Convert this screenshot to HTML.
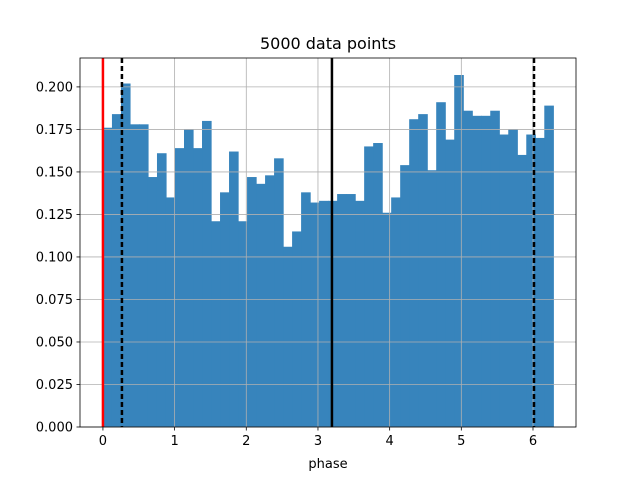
<!DOCTYPE html>
<html><head><meta charset="utf-8"><style>body{margin:0;background:#fff}svg{display:block;font-family:"DejaVu Sans","Liberation Sans",sans-serif}</style></head>
<body>
<svg id="c" width="640" height="480"></svg>
<script>
const binValues=[0.176,0.184,0.202,0.178,0.178,0.147,0.161,0.135,0.164,0.175,0.164,0.180,0.121,0.138,0.162,0.121,0.147,0.143,0.148,0.158,0.106,0.115,0.138,0.132,0.133,0.133,0.137,0.137,0.133,0.165,0.167,0.126,0.135,0.154,0.181,0.184,0.151,0.191,0.169,0.207,0.186,0.183,0.183,0.186,0.172,0.175,0.160,0.172,0.170,0.189];
const xTicks=[0,1,2,3,4,5,6];
const yTicks=[0,0.025,0.05,0.075,0.1,0.125,0.15,0.175,0.2];
const vLines=[{x:0,color:"red",dash:"",name:"start-line"},{x:0.265,color:"black",dash:"5,3",name:"lower-bound-line"},{x:3.195,color:"black",dash:"",name:"center-line"},{x:6.014,color:"black",dash:"5,3",name:"upper-bound-line"}];
const L=80,R=576,T=58,B=427,xmin=-0.32,xmax=6.6,ymax=0.217;
const sx=v=>L+(v-xmin)/(xmax-xmin)*(R-L);
const sy=v=>B-v/ymax*(B-T);
const svg=document.getElementById('c');const NS='http://www.w3.org/2000/svg';
function mk(t,a,p){const e=document.createElementNS(NS,t);for(const k in a)e.setAttribute(k,a[k]);(p||svg).appendChild(e);return e;}
const w=2*Math.PI/binValues.length;
binValues.forEach((v,i)=>{const x0=sx(i*w),x1=sx((i+1)*w);
const r=mk('rect',{x:x0,y:sy(v),width:x1-x0+0.6,height:B-sy(v),fill:'#3784bc'});

});
xTicks.forEach(t=>{const x=sx(t);
const g=mk('line',{x1:x,x2:x,y1:T,y2:B,stroke:'#b0b0b0','stroke-width':0.8});


mk('line',{x1:x,x2:x,y1:B,y2:B+3.5,stroke:'#000','stroke-width':0.8});
const tx=mk('text',{x:x,y:B+18,'text-anchor':'middle','font-size':13});tx.textContent=t;

});
yTicks.forEach(t=>{const y=sy(t);
const g=mk('line',{x1:L,x2:R,y1:y,y2:y,stroke:'#b0b0b0','stroke-width':0.8});


mk('line',{x1:L-3.5,x2:L,y1:y,y2:y,stroke:'#000','stroke-width':0.8});
const tx=mk('text',{x:L-7,y:y+4.5,'text-anchor':'end','font-size':13});tx.textContent=t.toFixed(3);

});
vLines.forEach(l=>{const x=sx(l.x);
const e=mk('line',{x1:x,x2:x,y1:T,y2:B,stroke:l.color,'stroke-width':2.5,'stroke-dasharray':l.dash});

});
const f=mk('rect',{x:L,y:T,width:R-L,height:B-T,fill:'none',stroke:'#000','stroke-width':0.8});


const ti=mk('text',{x:(L+R)/2,y:T-9,'text-anchor':'middle','font-size':16});ti.textContent='5000 data points';


const xl=mk('text',{x:(L+R)/2,y:468,'text-anchor':'middle','font-size':13});xl.textContent='phase';


</script>
</body></html>
